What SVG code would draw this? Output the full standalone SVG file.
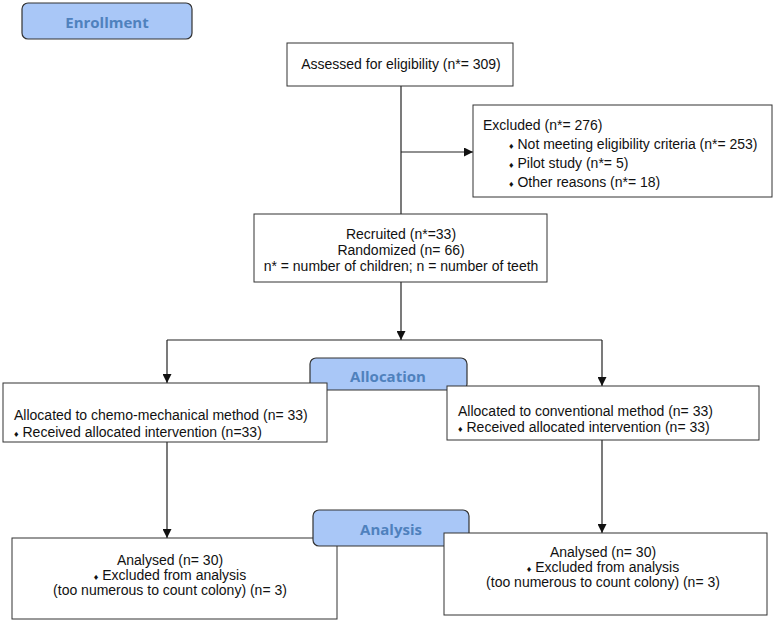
<svg xmlns="http://www.w3.org/2000/svg" width="777" height="624" viewBox="0 0 777 624">
<style>
.box{fill:#fff;stroke:#333;stroke-width:1}
.lab{fill:#a9c7f7;stroke:#333;stroke-width:1.2}
.lt{font-family:"Open Sans","DejaVu Sans",sans-serif;font-weight:bold;font-size:15px;fill:#4f81bd;text-anchor:middle}
.t{font-family:"Liberation Sans",Arial,sans-serif;font-size:14px;fill:#111}
.c{text-anchor:middle}
.b{font-size:9px}
.ln{stroke:#222;stroke-width:1.2;fill:none}
</style>
<defs>
<marker id="ah" viewBox="0 0 10 10" refX="10" refY="5" markerWidth="9" markerHeight="9" markerUnits="userSpaceOnUse" orient="auto">
<path d="M0,0 L10,5 L0,10 z" fill="#111"/>
</marker>
</defs>
<g id="connectors">
<line class="ln" x1="401" y1="86" x2="401" y2="214"/>
<line class="ln" x1="401" y1="152" x2="473" y2="152" marker-end="url(#ah)"/>
<line class="ln" x1="401" y1="282" x2="401" y2="340" marker-end="url(#ah)"/>
<line class="ln" x1="167" y1="340" x2="602" y2="340"/>
<line class="ln" x1="167" y1="340" x2="167" y2="383" marker-end="url(#ah)"/>
<line class="ln" x1="602" y1="340" x2="602" y2="386" marker-end="url(#ah)"/>
<line class="ln" x1="167" y1="442" x2="167" y2="538" marker-end="url(#ah)"/>
<line class="ln" x1="602" y1="440" x2="602" y2="533" marker-end="url(#ah)"/>
</g>
<g id="enrollment">
<rect class="lab" x="22" y="3" width="170" height="36" rx="6"/>
<text class="lt" x="107" y="28">Enrollment</text>
</g>
<g id="assessed">
<rect class="box" x="287" y="43" width="226" height="43"/>
<text class="t c" x="401" y="69">Assessed for eligibility (n*= 309)</text>
</g>
<g id="excluded">
<rect class="box" x="473" y="105" width="299" height="92"/>
<text class="t" x="483" y="130">Excluded (n*= 276)</text>
<text class="t" x="509" y="149"><tspan class="b">♦</tspan> Not meeting eligibility criteria (n*= 253)</text>
<text class="t" x="509" y="168"><tspan class="b">♦</tspan> Pilot study (n*= 5)</text>
<text class="t" x="509" y="187"><tspan class="b">♦</tspan> Other reasons (n*= 18)</text>
</g>
<g id="recruited">
<rect class="box" x="254" y="214" width="293" height="68"/>
<text class="t c" x="401" y="239">Recruited (n*=33)</text>
<text class="t c" x="401" y="255">Randomized (n= 66)</text>
<text class="t c" x="401" y="271">n* = number of children; n = number of teeth</text>
</g>
<g id="allocation">
<rect class="lab" x="310" y="358" width="157" height="32" rx="6"/>
<text class="lt" x="388" y="382">Allocation</text>
</g>
<g id="alloc-left">
<rect class="box" x="3" y="383" width="324" height="59"/>
<text class="t" x="14" y="420">Allocated to chemo-mechanical method (n= 33)</text>
<text class="t" x="14" y="437"><tspan class="b">♦</tspan> Received allocated intervention (n=33)</text>
</g>
<g id="alloc-right">
<rect class="box" x="447" y="386" width="312" height="54"/>
<text class="t" x="458" y="416">Allocated to conventional method (n= 33)</text>
<text class="t" x="458" y="432"><tspan class="b">♦</tspan> Received allocated intervention (n= 33)</text>
</g>
<g id="analysed-left">
<rect class="box" x="12" y="538" width="325" height="81"/>
<text class="t c" x="170" y="565">Analysed (n= 30)</text>
<text class="t c" x="170" y="580"><tspan class="b">♦</tspan> Excluded from analysis</text>
<text class="t c" x="170" y="595">(too numerous to count colony) (n= 3)</text>
</g>
<g id="analysis">
<rect class="lab" x="313" y="510" width="156" height="36" rx="6"/>
<text class="lt" x="391" y="535">Analysis</text>
</g>
<g id="analysed-right">
<rect class="box" x="444" y="533" width="323" height="82"/>
<text class="t c" x="603" y="557">Analysed (n= 30)</text>
<text class="t c" x="603" y="572"><tspan class="b">♦</tspan> Excluded from analysis</text>
<text class="t c" x="603" y="587">(too numerous to count colony) (n= 3)</text>
</g>
</svg>
